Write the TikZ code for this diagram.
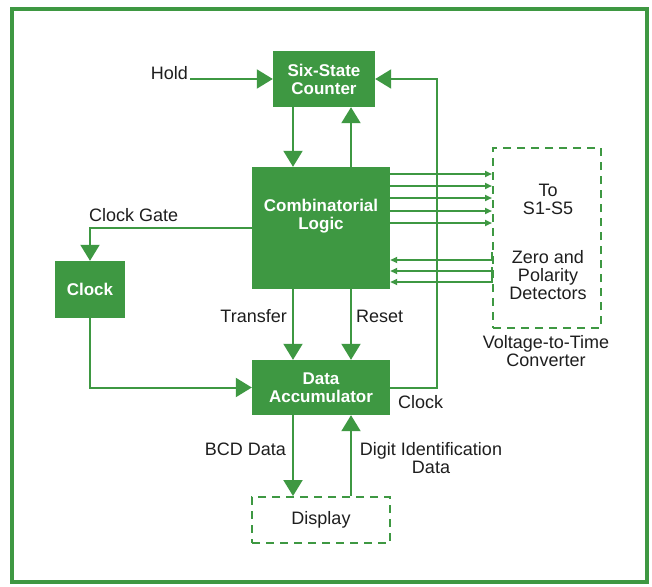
\documentclass[tikz,border=0pt]{standalone}
\usepackage{fontspec}
\setmainfont{Liberation Sans}
\usetikzlibrary{arrows.meta}
\definecolor{hpgreen}{RGB}{62,152,66}
\definecolor{ink}{RGB}{30,30,30}
\begin{document}
\begin{tikzpicture}[x=1pt,y=-1pt,
  gbox/.style={fill=hpgreen, draw=none, inner sep=0pt, font=\bfseries\fontsize{17}{18}\selectfont, text=white, align=center},
  gtext/.style={inner sep=0pt, font=\bfseries\fontsize{17}{18}\selectfont, text=white, align=center},
  dbox/.style={draw=hpgreen, line width=2pt, dash pattern=on 8pt off 6pt, inner sep=0pt, font=\fontsize{18}{18}\selectfont, text=ink},
  lbl/.style={font=\fontsize{18}{18}\selectfont, text=ink, inner sep=0pt, align=center},
  conn/.style={draw=hpgreen, line width=2pt, -{Triangle[length=16pt,width=19pt]}},
  sig/.style={draw=hpgreen, line width=1.8pt, -{Triangle[length=7pt,width=6pt]}},
  tick/.style={draw=hpgreen, line width=2pt},
]
\useasboundingbox[fill=white] (0,0) rectangle (652,586);
\draw[hpgreen, line width=4.5pt] (12,9) rectangle (647,582);

% blocks
\node[gbox, minimum width=102pt, minimum height=56pt] (counter) at (324,79) {Six-State\\Counter};
\node[gbox, minimum width=138pt, minimum height=122pt] (logic) at (321,228) {};
\node[gtext, anchor=north] (logictext) at (321,199) {Combinatorial\\Logic};
\node[gbox, minimum width=70pt, minimum height=57pt] (clock) at (90,289.5) {Clock};
\node[gbox, minimum width=138pt, minimum height=55pt] (acc) at (321,387.5) {Data\\Accumulator};
\node[dbox, minimum width=138pt, minimum height=46pt] (display) at (321,520) {Display};
\node[dbox, minimum width=108pt, minimum height=180pt] (vtc) at (547,238) {};

% texts in / near the converter
\node[lbl, anchor=north] (tos) at (548,184) {To\\S1-S5};
\node[lbl, anchor=north] (zero) at (548,250) {Zero and\\Polarity\\Detectors};
\node[lbl, anchor=north] (vtclabel) at (546,335) {Voltage-to-Time\\Converter};

% labels
\node[lbl, anchor=base east] (hold) at (188,79) {Hold};
\node[lbl, anchor=base west] (clockgate) at (89,221) {Clock Gate};
\node[lbl, anchor=base east] (transfer) at (287,322) {Transfer};
\node[lbl, anchor=base west] (reset) at (356,322) {Reset};
\node[lbl, anchor=base west] (clocklbl) at (398,408) {Clock};
\node[lbl, anchor=base east] (bcd) at (286,455) {BCD Data};
\node[lbl, anchor=north] (digit) at (431,442) {Digit Identification\\Data};

\coordinate (xA) at (293,0);
\coordinate (xB) at (351,0);
\coordinate (fb) at (437,0);

% connectors
\draw[conn, shorten <=2pt] (hold.base east) -- (hold.base east -| counter.west);
\draw[conn] (counter.south -| xA) -- (logic.north -| xA);
\draw[conn] (logic.north -| xB) -- (counter.south -| xB);
\draw[conn] (logic.south -| xA) -- (acc.north -| xA);
\draw[conn] (logic.south -| xB) -- (acc.north -| xB);
\draw[conn] (acc.south -| xA) -- (display.north -| xA);
\draw[conn] (display.north -| xB) -- (acc.south -| xB);
\draw[conn] (logic.west) -| (clock.north);
\draw[conn] (clock.south) |- (acc.west);
\draw[conn] (acc.east) -| (fb |- counter.east) -- (counter.east);

\foreach \y in {174,186,198,211,223} {
  \coordinate (o) at (0,\y);
  \draw[sig] (logic.east |- o) -- (vtc.west |- o);
}
\foreach \y in {260,271,282} {
  \coordinate (i) at (0,\y);
  \draw[sig] (vtc.west |- i) -- (logic.east |- i);
}
% solid stubs on the converter edge where the detector lines leave it
\coordinate (s1) at (0,252);
\coordinate (s2) at (0,261);
\coordinate (s3) at (0,267);
\coordinate (s4) at (0,283);
\draw[tick] (vtc.west |- s1) -- (vtc.west |- s2);
\draw[tick] (vtc.west |- s3) -- (vtc.west |- s4);
\end{tikzpicture}
\end{document}
